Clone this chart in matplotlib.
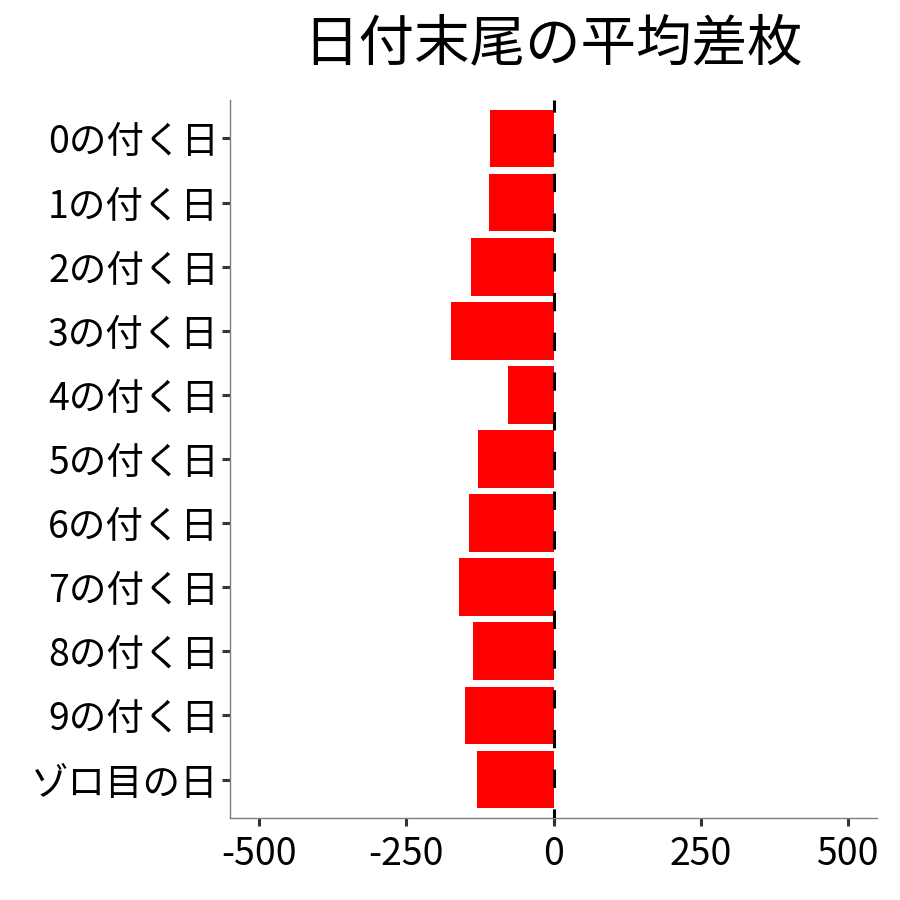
import matplotlib
matplotlib.use("Agg")
import matplotlib.pyplot as plt

plt.rcParams['font.family'] = ['Noto Sans CJK JP', 'DejaVu Sans']

labels = ["0の付く日", "1の付く日", "2の付く日", "3の付く日", "4の付く日",
          "5の付く日", "6の付く日", "7の付く日", "8の付く日", "9の付く日",
          "ゾロ目の日"]
values = [-108, -110, -140, -174, -77, -128, -144, -161, -137, -151, -130]
xticks = [-500, -250, 0, 250, 500]
title = "日付末尾の平均差枚"

fig = plt.figure(figsize=(9, 9), dpi=100)
ax = fig.add_axes([230 / 900, 82 / 900, 647 / 900, 718 / 900])

pos = list(range(len(labels)))
ax.barh(pos, values, height=0.9, color="#ff0000", zorder=2)
ax.axvline(0, color="black", linestyle=(3, (6, 7)), linewidth=2.2, zorder=3)

ax.set_ylim(len(labels) - 0.4, -0.6)
ax.set_xlim(-550, 550)
ax.set_yticks(pos)
ax.set_yticklabels(labels, fontsize=27)
ax.set_xticks(xticks)
ax.set_xticklabels([str(v) for v in xticks], fontsize=27)

for side in ["top", "right"]:
    ax.spines[side].set_visible(False)
for side in ["left", "bottom"]:
    ax.spines[side].set_color("#7f7f7f")
    ax.spines[side].set_linewidth(1.0)
ax.tick_params(axis="y", length=6, width=2.2, color="#333333", pad=2)
ax.tick_params(axis="x", length=6, width=2.2, color="#333333", pad=6)

fig.suptitle(title, x=553 / 900, y=0.982, fontsize=40, va="top")

fig.savefig("out.png", dpi=100)
